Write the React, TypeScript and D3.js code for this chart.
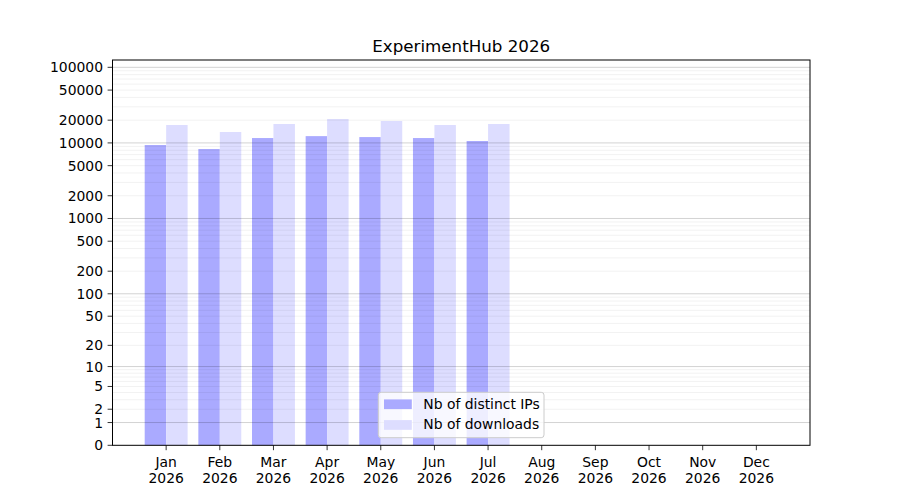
import React from "react";
import * as d3 from "d3";

const months = ["Jan", "Feb", "Mar", "Apr", "May", "Jun", "Jul", "Aug", "Sep", "Oct", "Nov", "Dec"];
const year = "2026";
const distinctIPs = [9380, 8300, 11600, 12300, 11950, 11600, 10600];
const downloads = [17250, 13950, 17800, 20700, 19500, 17250, 17800];
const yTicks = [0, 1, 2, 5, 10, 20, 50, 100, 200, 500, 1000, 2000, 5000, 10000, 20000, 50000, 100000];
const seriesNames = ["Nb of distinct IPs", "Nb of downloads"];
const colors = ["#aaaaff", "#ddddff"];

const W = 900, H = 500;
const L = 112.5, R = 810, T = 60, B = 445.3;
const FONT = "DejaVu Sans, sans-serif";

export default function App() {
  const x = d3.scaleLinear().domain([-1, 12]).range([L, R]);
  const lin = d3.scaleLinear().domain([0, Math.log10(125000 + 1)]).range([B, T]);
  const y = (v: number) => lin(Math.log10(v + 1));

  const majors = [1, 10, 100, 1000, 10000, 100000];
  const minors: number[] = [];
  for (let e = 0; e <= 5; e++) {
    for (let m = 2; m <= 9; m++) {
      const v = m * Math.pow(10, e);
      if (y(v) >= T) minors.push(v);
    }
  }

  const bw = 0.4;
  const legX = 378.3, legY = 392.3, legW = 165.7, legH = 45.4;

  return (
    <svg width={W} height={H} style={{ position: "absolute", left: 0, top: 0, background: "#fff" }} fontFamily={FONT}>
      <rect x={0} y={0} width={W} height={H} fill="#fff" />
      {/* bars */}
      {distinctIPs.map((v, i) => (
        <rect key={"ip" + i} x={x(i - bw)} y={y(v)} width={x(bw) - x(0)} height={B - y(v)} fill={colors[0]} />
      ))}
      {downloads.map((v, i) => (
        <rect key={"dl" + i} x={x(i)} y={y(v)} width={x(bw) - x(0)} height={B - y(v)} fill={colors[1]} />
      ))}
      {/* grid */}
      {minors.map((v) => (
        <line key={"mn" + v} x1={L} x2={R} y1={y(v)} y2={y(v)} stroke="#000" strokeOpacity={0.07} strokeWidth={0.8} />
      ))}
      {majors.map((v) => (
        <line key={"mj" + v} x1={L} x2={R} y1={y(v)} y2={y(v)} stroke="#000" strokeOpacity={0.2} strokeWidth={0.9} />
      ))}
      {/* frame */}
      <rect x={L} y={T} width={R - L} height={B - T} fill="none" stroke="#000" strokeWidth={1} />
      {/* y ticks */}
      {yTicks.map((v) => (
        <g key={"yt" + v}>
          <line x1={L - 4.9} x2={L} y1={y(v)} y2={y(v)} stroke="#000" strokeWidth={0.8} />
          <text x={L - 9.5} y={y(v)} dy="0.36em" textAnchor="end" fontSize={13.9} fill="#000">{v}</text>
        </g>
      ))}
      {/* x ticks */}
      {months.map((m, i) => (
        <g key={"xt" + m}>
          <line x1={x(i)} x2={x(i)} y1={B} y2={B + 4.9} stroke="#000" strokeWidth={0.8} />
          <text x={x(i)} y={466.8} textAnchor="middle" fontSize={13.9} fill="#000">{m}</text>
          <text x={x(i)} y={482.8} textAnchor="middle" fontSize={13.9} fill="#000">{year}</text>
        </g>
      ))}
      {/* title */}
      <text x={(L + R) / 2} y={51.7} textAnchor="middle" fontSize={16.7} fill="#000">ExperimentHub {year}</text>
      {/* legend */}
      <rect x={legX} y={legY} width={legW} height={legH} rx={2.8} fill="#fff" fillOpacity={0.8} stroke="#cccccc" strokeWidth={1} />
      {seriesNames.map((s, i) => (
        <g key={"lg" + i}>
          <rect x={384} y={399.4 + i * 20.7} width={27.8} height={9.7} fill={colors[i]} />
          <text x={423.3} y={408.6 + i * 20.7} fontSize={13.9} fill="#000">{s}</text>
        </g>
      ))}
    </svg>
  );
}
